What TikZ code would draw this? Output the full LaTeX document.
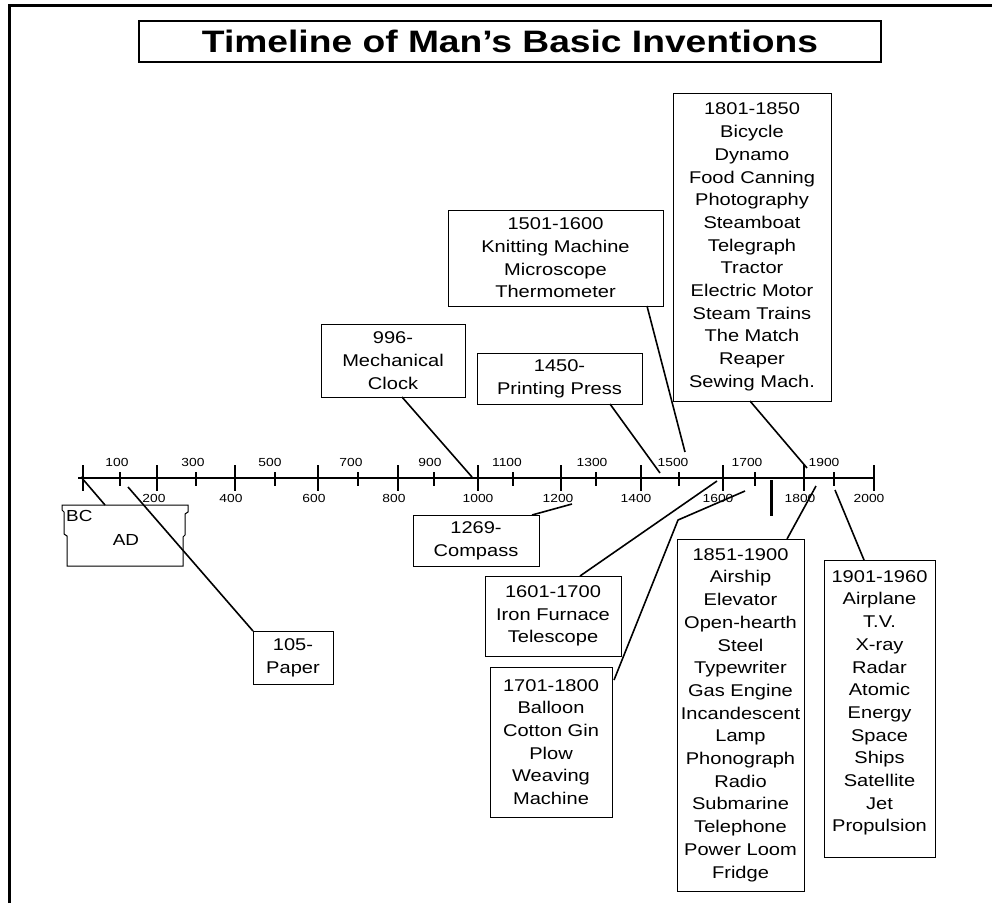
\documentclass[tikz,border=0pt]{standalone}
\usepackage{fontspec}
\setmainfont{Liberation Sans}[FakeStretch=1.18]
\newfontfamily\titlefont{Liberation Sans}[FakeStretch=1.2]
\usetikzlibrary{calc}
\begin{document}
\begin{tikzpicture}[x=1pt,y=-1pt,
  ibox/.style={draw, line width=1pt, fill=white, inner sep=0pt, outer sep=0pt, align=center, font=\fontsize{17}{22.7}\selectfont},
  conn/.style={line width=1.6pt},
  axisline/.style={line width=2.2pt},
  majortick/.style={line width=2pt},
  minortick/.style={line width=2pt},
  tlab/.style={font=\fontsize{11.7}{14}\selectfont, inner sep=0pt}]
\useasboundingbox (0,0) rectangle (992,903);
% outer frame (top and left)
\draw[line width=3pt] (9.5,903) -- (9.5,5.5) -- (992,5.5);
% title
\node[draw, line width=1.3pt, minimum width=742pt, minimum height=41pt, inner sep=0pt, outer sep=0pt,
      font=\titlefont\bfseries\fontsize{31}{36}\selectfont] (title) at (510,41.5) {Timeline of Man’s Basic Inventions};

% BC / AD box
\draw[line width=1pt, fill=white] (62,505) -- (188,505) -- (188,512) -- (185,514) -- (185,535) -- (183,537) -- (183,566)
   -- (67,566) -- (67,536) -- (64,534) -- (64,512) -- (62,510) -- cycle;
\node[anchor=north west, inner sep=0pt, font=\fontsize{16}{18}\selectfont] (bc) at (66,510) {BC};
\node[inner sep=0pt, font=\fontsize{16}{18}\selectfont] (ad) at (126,540) {AD};

% axis
\coordinate (y0) at (82.7,478);
\coordinate (y2000) at (874,478);
\draw[axisline] (78,478) -- (y2000);
\foreach \x in {82.7,156.5,234.5,318,398,477.7,560.7,640.7,723,804,874}
  \draw[majortick] (\x,465) -- (\x,491);
\foreach \x in {120,196,275,357.5,434,512.7,596,679,755,834}
  \draw[minortick] (\x,472) -- (\x,486);
\draw[line width=3pt] (771,480) -- (771,516);
% labels above
\foreach \x/\t in {117/100,193/300,270/500,351/700,430/900,507/1100,592/1300,673/1500,747/1700,824/1900}
  \node[tlab] at (\x,462.5) {\t};
% labels below
\foreach \x/\t in {154/200,231/400,314/600,394/800,478/1000,558/1200,636/1400,718/1600,800/1800,869/2000}
  \node[tlab] at (\x,498) {\t};

% boxes
\node[ibox, minimum width=144pt, minimum height=73pt] (b996) at (393,360.5) {996-\\Mechanical\\Clock};
\node[ibox, minimum width=165pt, minimum height=51pt] (b1450) at (559.5,378.5) {1450-\\Printing Press};
\node[ibox, minimum width=215pt, minimum height=96pt] (b1501) at (555.5,258) {1501-1600\\Knitting Machine\\Microscope\\Thermometer};
\node[ibox, minimum width=158pt, minimum height=308pt] (b1801) at (752,247) {1801-1850\\Bicycle\\Dynamo\\Food Canning\\Photography\\Steamboat\\Telegraph\\Tractor\\Electric Motor\\Steam Trains\\The Match\\Reaper\\Sewing Mach.};
\node[ibox, minimum width=126pt, minimum height=51pt] (b1269) at (476,540.5) {1269-\\Compass};
\node[ibox, minimum width=80pt, minimum height=53pt] (b105) at (293,657.5) {105-\\Paper};
\node[ibox, minimum width=136pt, minimum height=80pt] (b1601) at (553,616) {1601-1700\\Iron Furnace\\Telescope};
\node[ibox, minimum width=122pt, minimum height=150pt] (b1701) at (551,742) {1701-1800\\Balloon\\Cotton Gin\\Plow\\Weaving\\Machine};
\node[ibox, minimum width=127pt, minimum height=352pt] (b1851) at (740.5,715) {1851-1900\\Airship\\Elevator\\Open-hearth\\Steel\\Typewriter\\Gas Engine\\Incandescent\\Lamp\\Phonograph\\Radio\\Submarine\\Telephone\\Power Loom\\Fridge};
\node[ibox, minimum width=111pt, minimum height=297pt] (b1901) at (879.5,708.5) {1901-1960\\Airplane\\T.V.\\X-ray\\Radar\\Atomic\\Energy\\Space\\Ships\\Satellite\\Jet\\Propulsion\\[-8pt]};

% axis end points of connectors
\coordinate (aBC) at (81,477);
\coordinate (a105) at (128,487);
\coordinate (a996) at (472,477);
\coordinate (a1450) at (660,473);
\coordinate (a1501) at (685,452);
\coordinate (a1801) at (807,468);
\coordinate (a1269) at (572,504);
\coordinate (a1601) at (717,481);
\coordinate (k1701) at (678,520);
\coordinate (a1701) at (745,491);
\coordinate (a1851) at (816,486);
\coordinate (a1901) at (835,490);

% connectors
\draw[conn] (aBC) -- (105,505);
\draw[conn] (a105) -- (b105.north west);
\draw[conn] ($(b996.south west)+(81,0)$) -- (a996);
\draw[conn] ($(b1450.south west)+(133,0)$) -- (a1450);
\draw[conn] ($(b1501.south west)+(199,0)$) -- (a1501);
\draw[conn] ($(b1801.south west)+(77,0)$) -- (a1801);
\draw[conn] ($(b1269.north west)+(119,0)$) -- (a1269);
\draw[conn] ($(b1601.north west)+(95,0)$) -- (a1601);
\draw[conn] ($(b1701.north east)+(2,13)$) -- (k1701) -- (a1701);
\draw[conn] ($(b1851.north west)+(110,0)$) -- (a1851);
\draw[conn] ($(b1901.north west)+(40,0)$) -- (a1901);
\end{tikzpicture}
\end{document}
